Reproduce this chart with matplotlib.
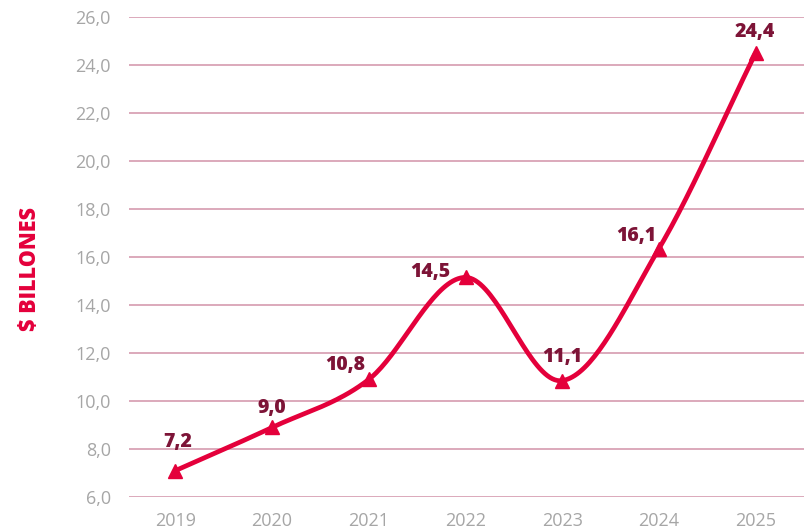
import numpy as np
import matplotlib
matplotlib.use("Agg")
import matplotlib.pyplot as plt

years = ["2019", "2020", "2021", "2022", "2023", "2024", "2025"]
values = [7.1, 8.9, 10.9, 15.15, 10.85, 16.35, 24.5]
labels = ["7,2", "9,0", "10,8", "14,5", "11,1", "16,1", "24,4"]
yticks = [6, 8, 10, 12, 14, 16, 18, 20, 22, 24, 26]
ytick_labels = ["6,0", "8,0", "10,0", "12,0", "14,0", "16,0", "18,0", "20,0", "22,0", "24,0", "26,0"]
label_offsets = [(2, 29), (0, 19), (-24, 14), (-35, 5), (0, 24), (-23, 13), (-1, 21)]

LINE = "#e4003b"
GRID = "#d9a3b5"
TICK = "#a6a6a6"
LAB = "#7d1437"

plt.rcParams['font.family'] = ['Open Sans', 'DejaVu Sans']

fig = plt.figure(figsize=(8.08, 5.31), dpi=100)
ax = fig.add_axes([129/808, (531-497)/531, (804-129)/808, 480/531])

x = np.arange(len(years), dtype=float)
y = np.array(values, dtype=float)

# Catmull-Rom style smoothing (rendering of the line between data points)
def smooth(xp, yp, n=40):
    px = np.concatenate([[2*xp[0]-xp[1]], xp, [2*xp[-1]-xp[-2]]])
    py = np.concatenate([[2*yp[0]-yp[1]], yp, [2*yp[-1]-yp[-2]]])
    xs, ys = [], []
    t = np.linspace(0, 1, n)
    for i in range(1, len(px)-2):
        p0x, p1x, p2x, p3x = px[i-1:i+3]
        p0y, p1y, p2y, p3y = py[i-1:i+3]
        b1x, b1y = p1x + (p2x-p0x)/6, p1y + (p2y-p0y)/6
        b2x, b2y = p2x - (p3x-p1x)/6, p2y - (p3y-p1y)/6
        bx = (1-t)**3*p1x + 3*(1-t)**2*t*b1x + 3*(1-t)*t**2*b2x + t**3*p2x
        by = (1-t)**3*p1y + 3*(1-t)**2*t*b1y + 3*(1-t)*t**2*b2y + t**3*p2y
        xs.append(bx); ys.append(by)
    return np.concatenate(xs), np.concatenate(ys)

sx, sy = smooth(x, y)
ax.plot(sx, sy, color=LINE, lw=3.4, solid_capstyle='round', zorder=3)
ax.plot(x, y, linestyle='none', marker='^', markersize=10, color=LINE, zorder=4)

for xi, yi, lab, (dx, dy) in zip(x, y, labels, label_offsets):
    ax.annotate(lab, (xi, yi), xytext=(dx, dy), textcoords='offset pixels',
                ha='center', va='center', fontsize=14, fontweight='heavy', color=LAB, zorder=5)

ax.set_xlim(-0.48, 6.5)
ax.set_ylim(6, 26)
ax.set_yticks(yticks)
ax.set_yticklabels(ytick_labels)
ax.set_xticks(x)
ax.set_xticklabels(years)
ax.tick_params(axis='both', length=0, colors=TICK, labelsize=13)
ax.tick_params(axis='y', pad=13)
ax.tick_params(axis='x', pad=11)
ax.grid(axis='y', color=GRID, lw=1.3)
ax.set_axisbelow(True)
for s in ax.spines.values():
    s.set_visible(False)

fig.text(30/808, (531-269)/531, "$ BILLONES", rotation=90, ha='center', va='center',
         fontsize=15.5, fontweight='heavy', color=LINE)

fig.savefig("out.png", dpi=100)
